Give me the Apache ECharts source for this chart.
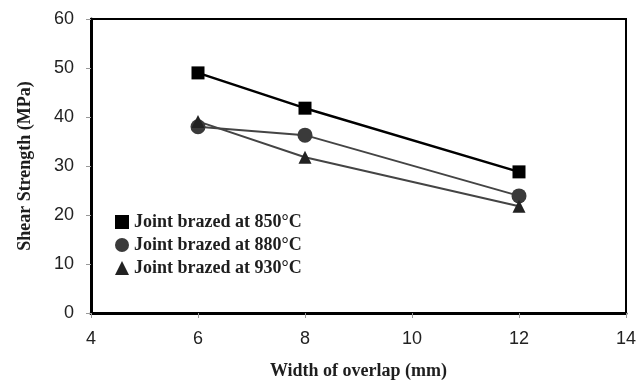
<!DOCTYPE html>
<html>
<head>
<meta charset="utf-8">
<script src="https://cdn.jsdelivr.net/npm/echarts@6/dist/echarts.min.js"></script>
<style>
  html, body { margin: 0; padding: 0; background: #fff; }
  #chart { width: 644px; height: 380px; }
</style>
</head>
<body>
<div id="chart"></div>
<script>
var overlap = [6, 8, 12];
var s850 = [49, 41.8, 28.8];
var s880 = [38, 36.3, 23.9];
var s930 = [39.1, 31.8, 21.8];
var names = ['Joint brazed at 850°C', 'Joint brazed at 880°C', 'Joint brazed at 930°C'];

function pairs(vals) {
  return overlap.map(function (x, i) { return [x, vals[i]]; });
}

var serif = "'Liberation Serif', 'DejaVu Serif', serif";
var sans = "'Liberation Sans', Arial, sans-serif";

var option = {
  backgroundColor: '#fff',
  animation: false,
  grid: {
    left: 91, right: 18, top: 19, bottom: 67,
    outerBoundsMode: 'none',
    show: true, borderColor: '#000', borderWidth: 2
  },
  legend: {
    orient: 'vertical',
    left: 115, top: 213, padding: 0,
    itemWidth: 14, itemHeight: 14, itemGap: 5,
    textStyle: { fontFamily: serif, fontWeight: 'bold', fontSize: 18, color: '#1e1e1e' },
    data: [
      { name: names[0], icon: 'rect' },
      { name: names[1], icon: 'circle' },
      { name: names[2], icon: 'triangle' }
    ]
  },
  xAxis: {
    type: 'value', min: 4, max: 14, interval: 2,
    name: 'Width of overlap (mm)', nameLocation: 'middle', nameGap: 49,
    nameTextStyle: { fontFamily: serif, fontWeight: 'bold', fontSize: 18, color: '#1e1e1e' },
    axisLine: { lineStyle: { color: '#000', width: 3 } },
    axisTick: { length: 5, lineStyle: { color: '#999', width: 1 } },
    axisLabel: { fontFamily: sans, fontSize: 18, color: '#222', margin: 17 },
    splitLine: { show: false }
  },
  yAxis: {
    type: 'value', min: 0, max: 60, interval: 10,
    name: 'Shear Strength (MPa)', nameLocation: 'middle', nameGap: 57,
    nameTextStyle: { fontFamily: serif, fontWeight: 'bold', fontSize: 18, color: '#1e1e1e' },
    axisLine: { lineStyle: { color: '#000', width: 3 } },
    axisTick: { show: true, length: 5, lineStyle: { color: '#999', width: 1 } },
    axisLabel: { fontFamily: sans, fontSize: 18, color: '#222', margin: 17 },
    splitLine: { show: false }
  },
  series: [
    {
      name: names[0], type: 'line', data: pairs(s850),
      symbol: 'rect', symbolSize: 13,
      lineStyle: { color: '#000', width: 2.5 },
      itemStyle: { color: '#000' }
    },
    {
      name: names[1], type: 'line', data: pairs(s880),
      symbol: 'circle', symbolSize: 15,
      lineStyle: { color: '#444', width: 2 },
      itemStyle: { color: '#3a3a3a' }
    },
    {
      name: names[2], type: 'line', data: pairs(s930),
      symbol: 'triangle', symbolSize: 13,
      lineStyle: { color: '#444', width: 2 },
      itemStyle: { color: '#222' }
    }
  ]
};

var myChart = echarts.init(document.getElementById('chart'));
myChart.setOption(option, true);
</script>
</body>
</html>
